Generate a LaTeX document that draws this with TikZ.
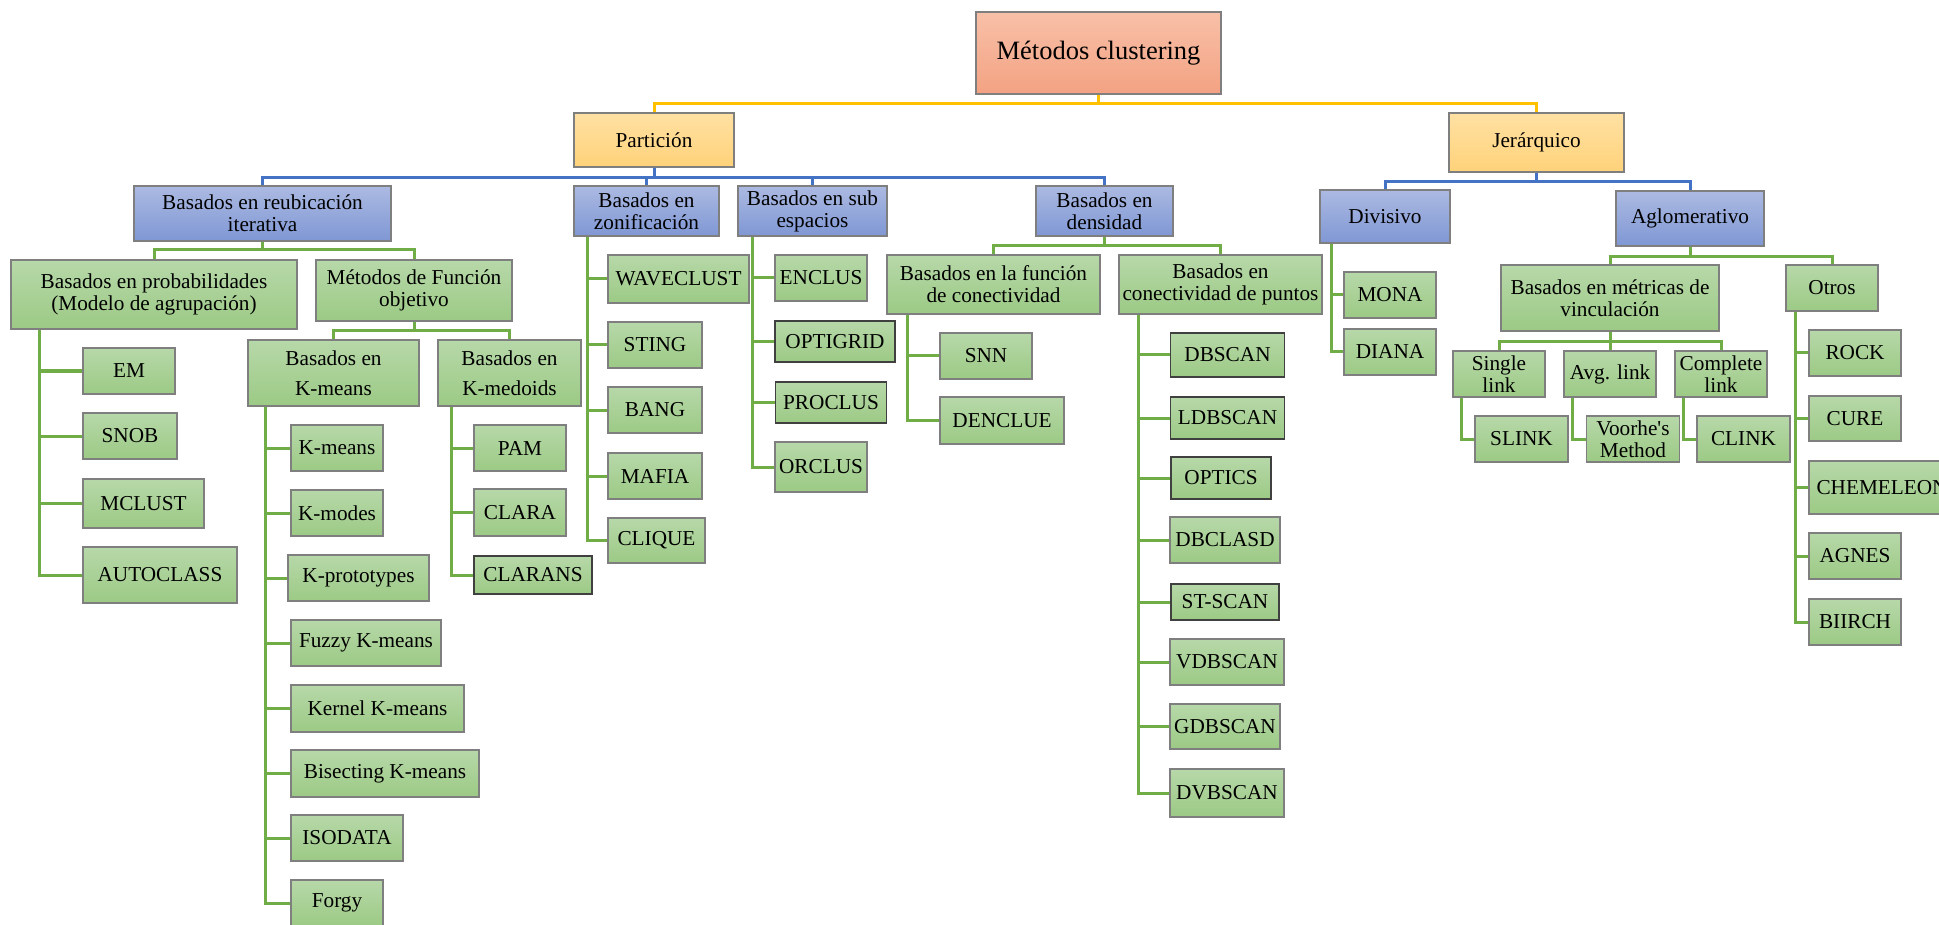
\documentclass[tikz,border=0pt]{standalone}
\usepackage{fontspec}
\setmainfont{Liberation Serif}
\usetikzlibrary{calc}
\definecolor{raizA}{HTML}{F8C0A8}
\definecolor{raizB}{HTML}{F3A282}
\definecolor{amA}{HTML}{FFE1A3}
\definecolor{amB}{HTML}{FFD27A}
\definecolor{azA}{HTML}{ACBAE2}
\definecolor{azB}{HTML}{7F97D4}
\definecolor{veA}{HTML}{B7D8A9}
\definecolor{veB}{HTML}{9CCA85}
\definecolor{borde}{HTML}{7F7F7F}
\definecolor{lnAm}{HTML}{FFC000}
\definecolor{lnAz}{HTML}{4472C4}
\definecolor{lnVe}{HTML}{70AD47}

\begin{document}
\begin{tikzpicture}[x=0.4pt, y=-0.4pt, every node/.style={font=\fontsize{8.5}{8.8}\selectfont}]
    % Estilos de cajas y lineas
    \tikzstyle{caja}=[draw=borde, line width=0.5pt, align=center, inner sep=1pt]
    \tikzstyle{raiz}=[caja, top color=raizA, bottom color=raizB, font=\fontsize{10.6}{11}\selectfont]
    \tikzstyle{amarillo}=[caja, top color=amA, bottom color=amB]
    \tikzstyle{azul}=[caja, top color=azA, bottom color=azB]
    \tikzstyle{verde}=[caja, top color=veA, bottom color=veB]
    \tikzstyle{oscuro}=[verde, draw=black!75, line width=0.45pt]
    \tikzstyle{lineaAm}=[draw=lnAm, line width=1.2pt]
    \tikzstyle{lineaAz}=[draw=lnAz, line width=1.2pt]
    \tikzstyle{lineaVe}=[draw=lnVe, line width=1.2pt]
    \tikzset{tam/.style 2 args={minimum width=#1*0.4pt, minimum height=#2*0.4pt}}

    \fill[white] (0,0) rectangle (1939,925);
    \useasboundingbox (0,0) rectangle (1939,925);

    % Raiz
    \node[raiz, tam={245}{82}] (raiz) at (1098.5,53) {Métodos clustering};

    % Nivel 1
    \node[amarillo, tam={160}{54}] (part) at (654,140) {Partición};
    \node[amarillo, tam={175}{59}] (jer) at (1536.5,142.5) {Jerárquico};

    % Nivel 2
    \node[azul, tam={257}{55}] (reub) at (262.5,213.5) {Basados en reubicación\\iterativa};
    \node[azul, tam={145}{50}] (zon) at (646.5,211) {Basados en\\zonificación};
    \node[azul, tam={149}{50}] (sub) at (812.5,211) {Basados en sub\\espacios};
    \node[azul, tam={137}{50}] (dens) at (1104.5,211) {Basados en\\densidad};
    \node[azul, tam={130}{53}] (div) at (1385,216.5) {Divisivo};
    \node[azul, tam={148}{55}] (aglo) at (1690,218.5) {Aglomerativo};

    % Nivel 3
    \node[verde, tam={286}{69}] (prob) at (154,294.5) {Basados en probabilidades\\(Modelo de agrupación)};
    \node[verde, tam={196}{61}] (func) at (414,290.5) {Métodos de Función\\objetivo};
    \node[verde, tam={171}{66}] (kmb) at (333.5,373) {Basados en\\[3.2pt]K-means};
    \node[verde, tam={143}{66}] (kmd) at (509.5,373) {Basados en\\[3.2pt]K-medoids};
    \node[verde, tam={213}{59}] (fcon) at (993.5,284.5) {Basados en la función\\de conectividad};
    \node[verde, tam={203}{59}] (pts) at (1220.5,284.5) {Basados en\\conectividad de puntos};
    \node[verde, tam={218}{66}] (metr) at (1610,298) {Basados en métricas de\\vinculación};
    \node[verde, tam={92}{46}] (otros) at (1832,288) {Otros};
    \node[verde, tam={92}{46}] (single) at (1499,374) {Single\\link};
    \node[verde, tam={92}{46}] (avg) at (1610,374) {Avg. link};
    \node[verde, tam={92}{46}] (compl) at (1721,374) {Complete\\link};

    % Hojas: probabilidades
    \node[verde, tam={92}{46}] (em) at (129,371) {EM};
    \node[verde, tam={94}{46}] (snob) at (130,436) {SNOB};
    \node[verde, tam={121}{49}] (mclust) at (143.5,503.5) {MCLUST};
    \node[verde, tam={154}{56}] (autoc) at (160,575) {AUTOCLASS};

    % Hojas: K-means
    \node[verde, tam={92}{46}] (kmeans) at (337,448) {K-means};
    \node[verde, tam={92}{46}] (kmodes) at (337,513) {K-modes};
    \node[verde, tam={141}{46}] (kproto) at (358.5,578) {K-prototypes};
    \node[verde, tam={150}{46}] (fuzzy) at (366,643) {Fuzzy K-means};
    \node[verde, tam={173}{47}] (kernel) at (377.5,708.5) {Kernel K-means};
    \node[verde, tam={188}{47}] (bisec) at (385,773.5) {Bisecting K-means};
    \node[verde, tam={112}{46}] (isodata) at (347,838) {ISODATA};
    \node[verde, tam={92}{46}] (forgy) at (337,903) {Forgy};

    % Hojas: K-medoids
    \node[verde, tam={92}{46}] (pam) at (520,448) {PAM};
    \node[verde, tam={92}{47}] (clara) at (520,512.5) {CLARA};
    \node[oscuro, tam={118}{38}] (clarans) at (533,575) {CLARANS};

    % Hojas: zonificacion
    \node[verde, tam={141}{48}] (wave) at (678.5,279) {WAVECLUST};
    \node[verde, tam={94}{46}] (sting) at (655,345) {STING};
    \node[verde, tam={94}{46}] (bang) at (655,410) {BANG};
    \node[verde, tam={94}{46}] (mafia) at (655,476) {MAFIA};
    \node[verde, tam={97}{45}] (clique) at (656.5,540.5) {CLIQUE};

    % Hojas: sub espacios
    \node[verde, tam={92}{46}] (enclus) at (821,278) {ENCLUS};
    \node[oscuro, tam={120}{41}] (optigrid) at (835,341.5) {OPTIGRID};
    \node[oscuro, tam={111}{41}] (proclus) at (831,402.5) {PROCLUS};
    \node[verde, tam={92}{50}] (orclus) at (821,467) {ORCLUS};

    % Hojas: densidad
    \node[verde, tam={92}{46}] (snn) at (986,356) {SNN};
    \node[verde, tam={124}{47}] (denclue) at (1002,420.5) {DENCLUE};
    \node[oscuro, tam={114}{44}] (dbscan) at (1227.5,355) {DBSCAN};
    \node[oscuro, tam={114}{42}] (ldbscan) at (1227.5,418) {LDBSCAN};
    \node[oscuro, tam={100}{42}] (optics) at (1221,478) {OPTICS};
    \node[verde, tam={110}{46}] (dbclasd) at (1225,540) {DBCLASD};
    \node[oscuro, tam={108}{36}] (stscan) at (1225,602) {ST-SCAN};
    \node[verde, tam={114}{46}] (vdbscan) at (1227,662) {VDBSCAN};
    \node[verde, tam={110}{45}] (gdbscan) at (1225,726.5) {GDBSCAN};
    \node[verde, tam={114}{48}] (dvbscan) at (1227,793) {DVBSCAN};

    % Hojas: jerarquico
    \node[verde, tam={92}{46}] (mona) at (1390,295) {MONA};
    \node[verde, tam={92}{46}] (diana) at (1390,352) {DIANA};
    \node[verde, tam={93}{46}] (slink) at (1521.5,439) {SLINK};
    \node[verde, tam={93}{46}] (voorhe) at (1633,439) {Voorhe\textquotesingle s\\Method};
    \node[verde, tam={93}{46}] (clink) at (1743.5,439) {CLINK};
    \node[verde, tam={92}{46}] (rock) at (1855,353) {ROCK};
    \node[verde, tam={92}{45}] (cure) at (1855,418.5) {CURE};
    \node[verde, tam={146}{53}] (chem) at (1882,487.5) {CHEMELEON};
    \node[verde, tam={92}{46}] (agnes) at (1855,556) {AGNES};
    \node[verde, tam={92}{46}] (biirch) at (1855,622) {BIIRCH};

    % Conexiones nivel 1 y 2
    \draw[lineaAm] (raiz.south) -- ++(0,9) -| (part.north);
    \draw[lineaAm] (raiz.south) -- ++(0,9) -| (jer.north);
    \draw[lineaAz] (part.south) -- ++(0,10) -| (reub.north);
    \draw[lineaAz] (part.south) -- ++(0,10) -| (zon.north);
    \draw[lineaAz] (part.south) -- ++(0,10) -| (sub.north);
    \draw[lineaAz] (part.south) -- ++(0,10) -| (dens.north);
    \draw[lineaAz] (jer.south) -- ++(0,9) -| (div.north);
    \draw[lineaAz] (jer.south) -- ++(0,9) -| (aglo.north);

    % Conexiones nivel 3
    \draw[lineaVe] (reub.south) -- ++(0,8) -| (prob.north);
    \draw[lineaVe] (reub.south) -- ++(0,8) -| (func.north);
    \draw[lineaVe] (func.south) -- ++(0,9) -| (kmb.north);
    \draw[lineaVe] (func.south) -- ++(0,9) -| (kmd.north);
    \draw[lineaVe] (dens.south) -- ++(0,9) -| (fcon.north);
    \draw[lineaVe] (dens.south) -- ++(0,9) -| (pts.north);
    \draw[lineaVe] (aglo.south) -- ++(0,10) -| (metr.north);
    \draw[lineaVe] (aglo.south) -- ++(0,10) -| (otros.north);
    \draw[lineaVe] (metr.south) -- ++(0,10) -| (single.north);
    \draw[lineaVe] (metr.south) -- ++(0,10) -| (avg.north);
    \draw[lineaVe] (metr.south) -- ++(0,10) -| (compl.north);

    % Conexiones a las hojas
    \draw[lineaVe] ($(prob.south west)+(29,0)$) |- (em.west);
    \draw[lineaVe] ($(prob.south west)+(29,0)$) |- (snob.west);
    \draw[lineaVe] ($(prob.south west)+(29,0)$) |- (mclust.west);
    \draw[lineaVe] ($(prob.south west)+(29,0)$) |- (autoc.west);

    \draw[lineaVe] ($(kmb.south west)+(18,0)$) |- (kmeans.west);
    \draw[lineaVe] ($(kmb.south west)+(18,0)$) |- (kmodes.west);
    \draw[lineaVe] ($(kmb.south west)+(18,0)$) |- (kproto.west);
    \draw[lineaVe] ($(kmb.south west)+(18,0)$) |- (fuzzy.west);
    \draw[lineaVe] ($(kmb.south west)+(18,0)$) |- (kernel.west);
    \draw[lineaVe] ($(kmb.south west)+(18,0)$) |- (bisec.west);
    \draw[lineaVe] ($(kmb.south west)+(18,0)$) |- (isodata.west);
    \draw[lineaVe] ($(kmb.south west)+(18,0)$) |- (forgy.west);

    \draw[lineaVe] ($(kmd.south west)+(14,0)$) |- (pam.west);
    \draw[lineaVe] ($(kmd.south west)+(14,0)$) |- (clara.west);
    \draw[lineaVe] ($(kmd.south west)+(14,0)$) |- (clarans.west);

    \draw[lineaVe] ($(zon.south west)+(14,0)$) |- (wave.west);
    \draw[lineaVe] ($(zon.south west)+(14,0)$) |- (sting.west);
    \draw[lineaVe] ($(zon.south west)+(14,0)$) |- (bang.west);
    \draw[lineaVe] ($(zon.south west)+(14,0)$) |- (mafia.west);
    \draw[lineaVe] ($(zon.south west)+(14,0)$) |- (clique.west);

    \draw[lineaVe] ($(sub.south west)+(15,0)$) |- (enclus.west);
    \draw[lineaVe] ($(sub.south west)+(15,0)$) |- (optigrid.west);
    \draw[lineaVe] ($(sub.south west)+(15,0)$) |- (proclus.west);
    \draw[lineaVe] ($(sub.south west)+(15,0)$) |- (orclus.west);

    \draw[lineaVe] ($(fcon.south west)+(21,0)$) |- (snn.west);
    \draw[lineaVe] ($(fcon.south west)+(21,0)$) |- (denclue.west);

    \draw[lineaVe] ($(pts.south west)+(20.5,0)$) |- (dbscan.west);
    \draw[lineaVe] ($(pts.south west)+(20.5,0)$) |- (ldbscan.west);
    \draw[lineaVe] ($(pts.south west)+(20.5,0)$) |- (optics.west);
    \draw[lineaVe] ($(pts.south west)+(20.5,0)$) |- (dbclasd.west);
    \draw[lineaVe] ($(pts.south west)+(20.5,0)$) |- (stscan.west);
    \draw[lineaVe] ($(pts.south west)+(20.5,0)$) |- (vdbscan.west);
    \draw[lineaVe] ($(pts.south west)+(20.5,0)$) |- (gdbscan.west);
    \draw[lineaVe] ($(pts.south west)+(20.5,0)$) |- (dvbscan.west);

    \draw[lineaVe] ($(div.south west)+(12.6,0)$) |- (mona.west);
    \draw[lineaVe] ($(div.south west)+(12.6,0)$) |- (diana.west);

    \draw[lineaVe] ($(single.south west)+(9,0)$) |- (slink.west);
    \draw[lineaVe] ($(avg.south west)+(9,0)$) |- (voorhe.west);
    \draw[lineaVe] ($(compl.south west)+(9,0)$) |- (clink.west);

    \draw[lineaVe] ($(otros.south west)+(10,0)$) |- (rock.west);
    \draw[lineaVe] ($(otros.south west)+(10,0)$) |- (cure.west);
    \draw[lineaVe] ($(otros.south west)+(10,0)$) |- (chem.west);
    \draw[lineaVe] ($(otros.south west)+(10,0)$) |- (agnes.west);
    \draw[lineaVe] ($(otros.south west)+(10,0)$) |- (biirch.west);
\end{tikzpicture}
\end{document}
